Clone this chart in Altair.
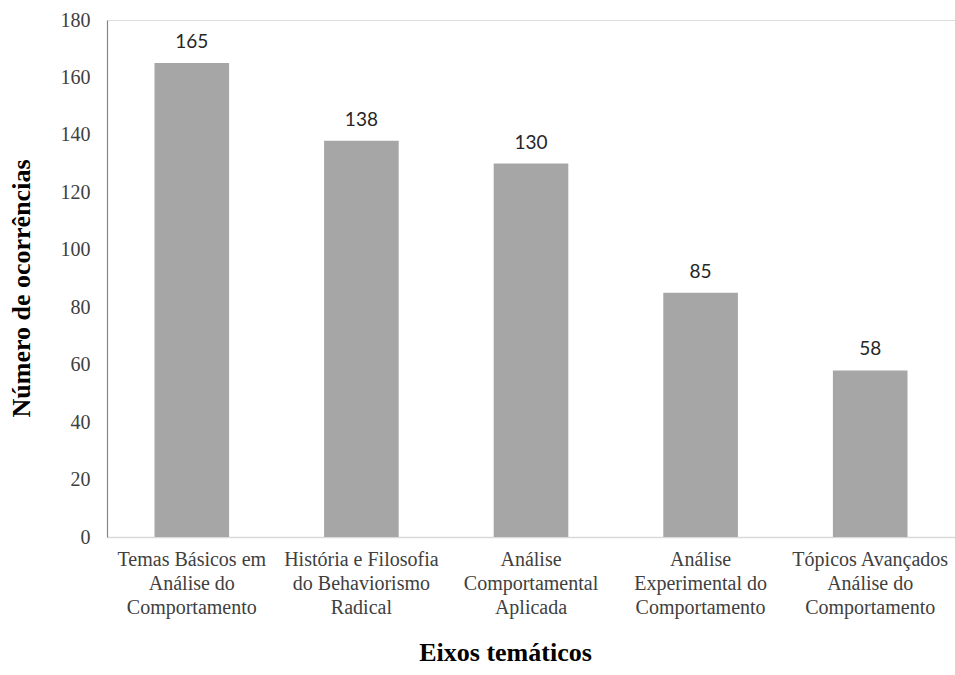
import altair as alt
import pandas as pd

categories = [
    "Temas Básicos em|Análise do|Comportamento",
    "História e Filosofia|do Behaviorismo|Radical",
    "Análise|Comportamental|Aplicada",
    "Análise|Experimental do|Comportamento",
    "Tópicos Avançados|Análise do|Comportamento",
]
values = [165, 138, 130, 85, 58]

df = pd.DataFrame({"eixo": categories, "n": values})

FONT = "Liberation Serif"
LABEL_FONT = "Lato"

base = alt.Chart(df).encode(
    x=alt.X(
        "eixo:N",
        sort=None,
        scale=alt.Scale(paddingInner=0.56, paddingOuter=0.28),
        axis=alt.Axis(
            title="Eixos temáticos",
            labelAngle=0,
            labelExpr="split(datum.label, '|')",
            labelFont=FONT,
            labelFontSize=20,
            labelColor="#404040",
            labelLineHeight=24,
            labelPadding=12,
            labelBaseline="top",
            ticks=False,
            domainColor="#D9D9D9",
            domainWidth=1.5,
            titleFont=FONT,
            titleFontSize=26,
            titleFontWeight="bold",
            titleColor="#000000",
            titleX=398,
            titleY=123,
            titleBaseline="alphabetic",
        ),
    ),
    y=alt.Y(
        "n:Q",
        scale=alt.Scale(domain=[0, 180]),
        axis=alt.Axis(
            title="Número de ocorrências",
            values=list(range(0, 181, 20)),
            grid=False,
            ticks=False,
            labelFont=FONT,
            labelFontSize=20,
            labelColor="#404040",
            labelPadding=17,
            domainColor="#868686",
            domainWidth=1.2,
            titleFont=FONT,
            titleFontSize=26,
            titleFontWeight="bold",
            titleColor="#000000",
            titleAngle=-90,
            titleX=-86,
            titleY=268,
            titleBaseline="middle",
        ),
    ),
)

bars = base.mark_bar(color="#A6A6A6")
labels = base.mark_text(
    dy=-21, font=LABEL_FONT, fontSize=19, color="#262626", baseline="middle"
).encode(text=alt.Text("n:Q"))

chart = (
    (bars + labels)
    .properties(
        width=848,
        height=517,
        autosize=alt.AutoSizeParams(type="none"),
        padding={"left": 107, "top": 20, "right": 0, "bottom": 138},
    )
    .configure_view(stroke=None)
    .configure(background="white")
)

chart.save("out.html", embed_options={"renderer": "svg", "actions": False})
